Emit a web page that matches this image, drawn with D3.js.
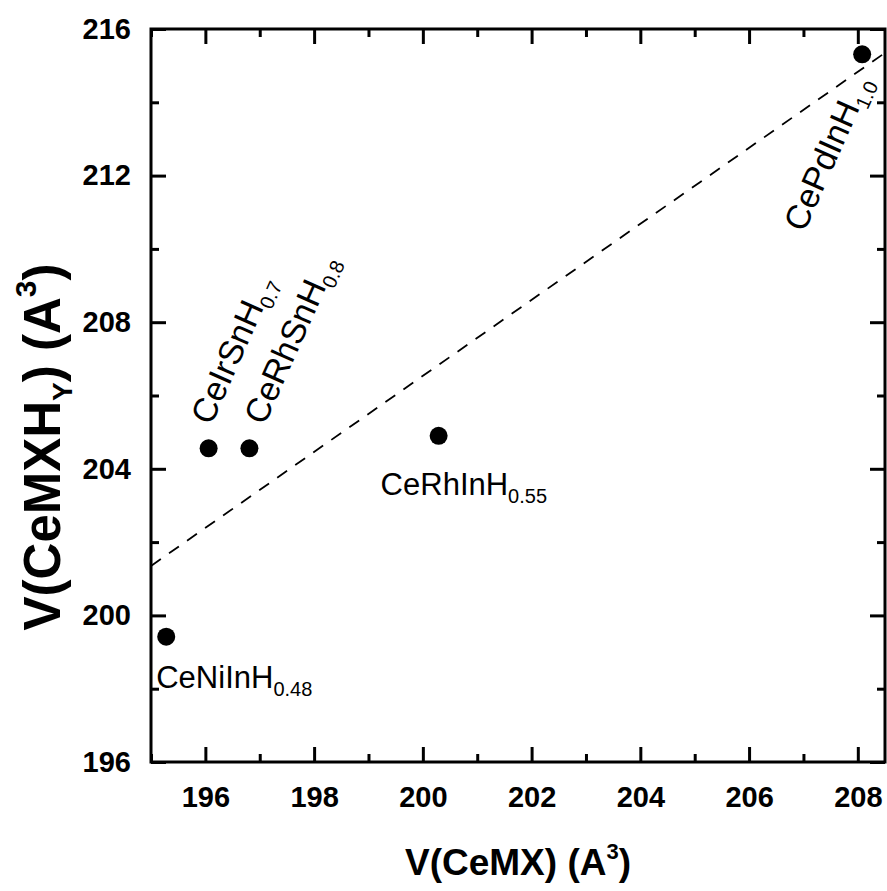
<!DOCTYPE html>
<html>
<head>
<meta charset="utf-8">
<script src="https://cdn.jsdelivr.net/npm/d3@7"></script>
<style>
  html, body { margin: 0; padding: 0; background: #fff; }
  svg { display: block; font-family: Arial, "Liberation Sans", Helvetica, sans-serif; }
</style>
</head>
<body>
<svg id="chart" width="887" height="891"></svg>
<script>
// ---- data ----
const compounds   = ["CeNiInH", "CeIrSnH", "CeRhSnH", "CeRhInH", "CePdInH"];
const hydrogen    = ["0.48", "0.7", "0.8", "0.55", "1.0"];
const vCeMX       = [195.28, 196.06, 196.81, 200.29, 208.08];
const vCeMXHy     = [199.42, 204.56, 204.56, 204.90, 215.31];
const fitX        = [195.0, 208.5];
const fitY        = [201.35, 215.35];
const xMajorTicks = [196, 198, 200, 202, 204, 206, 208];
const xMinorTicks = [195, 197, 199, 201, 203, 205, 207];
const yMajorTicks = [196, 200, 204, 208, 212, 216];
const yMinorTicks = [198, 202, 206, 210, 214];

// ---- label layout (offsets from the point, in px; rotation in deg; font size) ----
const labelLayout = [
  { dx: -10, dy: 51, rot: 0, fs: 31 },
  { dx: 2.6, dy: -22, rot: -66, fs: 34 },
  { dx: 15, dy: -22, rot: -66, fs: 34 },
  { dx: -58, dy: 59, rot: 0, fs: 31 },
  { dx: -58, dy: 179, rot: -66, fs: 34 }
];

const svg = d3.select("#chart");
const L = 151, R = 885, T = 29, B = 762;
const x = d3.scaleLinear().domain([195, 208.5]).range([L, R]);
const y = d3.scaleLinear().domain([196, 216]).range([B, T]);

const axisStroke = 3;
const majorLen = 15, minorLen = 8;

function styleAxis(g) {
  g.select(".domain").remove();
  g.selectAll(".tick line").attr("stroke", "#000").attr("stroke-width", axisStroke);
}

// bottom axis
const gb = svg.append("g").attr("transform", `translate(0,${B})`)
  .call(d3.axisBottom(x).tickValues(xMajorTicks).tickSize(-majorLen).tickPadding(24).tickFormat(d3.format("d")));
styleAxis(gb);
gb.selectAll(".tick text").attr("font-size", 29).attr("font-weight", "bold").attr("fill", "#000")
  .attr("font-family", "Arial, 'Liberation Sans', sans-serif");
svg.append("g").attr("transform", `translate(0,${B})`)
  .call(d3.axisBottom(x).tickValues(xMinorTicks).tickSize(-minorLen).tickFormat(""))
  .call(styleAxis);

// top axis
svg.append("g").attr("transform", `translate(0,${T})`)
  .call(d3.axisTop(x).tickValues(xMajorTicks).tickSize(-majorLen).tickFormat(""))
  .call(styleAxis);
svg.append("g").attr("transform", `translate(0,${T})`)
  .call(d3.axisTop(x).tickValues(xMinorTicks).tickSize(-minorLen).tickFormat(""))
  .call(styleAxis);

// left axis
const gl = svg.append("g").attr("transform", `translate(${L},0)`)
  .call(d3.axisLeft(y).tickValues(yMajorTicks).tickSize(-majorLen).tickPadding(20).tickFormat(d3.format("d")));
styleAxis(gl);
gl.selectAll(".tick text").attr("font-size", 29).attr("font-weight", "bold").attr("fill", "#000")
  .attr("font-family", "Arial, 'Liberation Sans', sans-serif");
svg.append("g").attr("transform", `translate(${L},0)`)
  .call(d3.axisLeft(y).tickValues(yMinorTicks).tickSize(-minorLen).tickFormat(""))
  .call(styleAxis);

// right axis
svg.append("g").attr("transform", `translate(${R},0)`)
  .call(d3.axisRight(y).tickValues(yMajorTicks).tickSize(-majorLen).tickFormat(""))
  .call(styleAxis);
svg.append("g").attr("transform", `translate(${R},0)`)
  .call(d3.axisRight(y).tickValues(yMinorTicks).tickSize(-minorLen).tickFormat(""))
  .call(styleAxis);

// frame
svg.append("rect").attr("x", L).attr("y", T).attr("width", R - L).attr("height", B - T)
  .attr("fill", "none").attr("stroke", "#000").attr("stroke-width", axisStroke);

// fit line (dashed)
const fitData = fitX.map((v, i) => [v, fitY[i]]);
svg.append("path").datum(fitData)
  .attr("d", d3.line().x(d => x(d[0])).y(d => y(d[1])))
  .attr("fill", "none").attr("stroke", "#000").attr("stroke-width", 1.8)
  .attr("stroke-dasharray", "12,10");

// points
const pts = compounds.map((c, i) => ({ name: c, h: hydrogen[i], vx: vCeMX[i], vy: vCeMXHy[i], lay: labelLayout[i] }));
svg.append("g").selectAll("circle").data(pts).join("circle")
  .attr("cx", d => x(d.vx)).attr("cy", d => y(d.vy)).attr("r", 9).attr("fill", "#000");

// labels
const lab = svg.append("g").selectAll("text").data(pts).join("text")
  .attr("transform", d => `translate(${x(d.vx) + d.lay.dx},${y(d.vy) + d.lay.dy}) rotate(${d.lay.rot})`)
  .attr("font-size", d => d.lay.fs).attr("fill", "#000");
lab.append("tspan").text(d => d.name);
lab.append("tspan").attr("font-size", 20).attr("dy", 8).text(d => d.h);

// x axis title
const xt = svg.append("text").attr("x", (L + R) / 2).attr("y", 875).attr("text-anchor", "middle")
  .attr("font-size", 37).attr("font-weight", "bold").attr("fill", "#000");
xt.append("tspan").text("V(CeMX) (A");
xt.append("tspan").attr("font-size", 22).attr("dy", -16).text("3");
xt.append("tspan").attr("dy", 16).text(")");

// y axis title
const yt = svg.append("text").attr("transform", `translate(60,447) rotate(-90)`).attr("text-anchor", "middle")
  .attr("font-size", 51).attr("font-weight", "bold").attr("fill", "#000");
yt.append("tspan").text("V(CeMXH");
yt.append("tspan").attr("font-size", 28).attr("dy", 12).text("Y");
yt.append("tspan").attr("dy", -12).text(") (A");
yt.append("tspan").attr("font-size", 30).attr("dy", -24).text("3");
yt.append("tspan").attr("dy", 24).text(")");
</script>
</body>
</html>
